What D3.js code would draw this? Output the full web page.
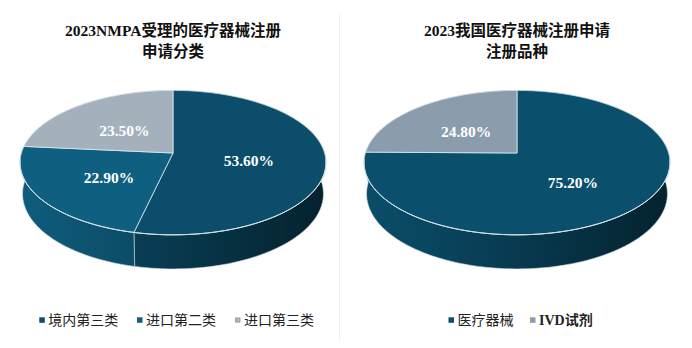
<!DOCTYPE html>
<html>
<head>
<meta charset="utf-8">
<script src="https://cdn.jsdelivr.net/npm/d3@7/dist/d3.min.js"></script>
<style>
  html, body { margin: 0; padding: 0; background: #fff; }
  svg { display: block; }
</style>
</head>
<body>
<svg id="chart" width="692" height="348"></svg>
<script>
// ---- data ----
const leftTitle = ["2023NMPA受理的医疗器械注册", "申请分类"];
const leftCategories = ["境内第三类", "进口第二类", "进口第三类"];
const leftValues = [53.6, 22.9, 23.5];
const leftColors = ["#0b4d6a", "#0f5f80", "#a4b1bc"];

const rightTitle = ["2023我国医疗器械注册申请", "注册品种"];
const rightCategories = ["医疗器械", "IVD试剂"];
const rightValues = [75.2, 24.8];
const rightColors = ["#0a4f6c", "#8b9cac"];

// ---- 3D projection of a tilted disc (camera above, with perspective) ----
const alpha = 27.9 * Math.PI / 180;
const sa = Math.sin(alpha), ca = Math.cos(alpha);
const D = 6.65;          // camera distance in radius units
const F = 151.6 * D;     // focal scale -> 151.6 px radius at the centre plane
const H = 0.235;         // thickness of the pie in radius units

function project(cx, cy, theta, r, h) {
  const x = r * Math.sin(theta), v = r * Math.cos(theta);
  const depth = D + v * ca - h * sa;
  const Y = v * sa + h * ca;
  return [cx + F * x / depth, cy - F * Y / depth];
}

function arcPoints(cx, cy, a0, a1, r, h) {
  const n = Math.max(2, Math.ceil(Math.abs(a1 - a0) / 0.02));
  return d3.range(n + 1).map(i => project(cx, cy, a0 + (a1 - a0) * i / n, r, h));
}

const svg = d3.select("#chart");
const defs = svg.append("defs");
const line = d3.line();

// faint divider between the two panels
svg.append("line")
  .attr("x1", 339.5).attr("x2", 339.5).attr("y1", 13).attr("y2", 340)
  .attr("stroke", "#efefef").attr("stroke-width", 1);

function drawPie(opts) {
  const { id, cx, cy, values, colors, title, categories, legendX, labelColors } = opts;
  const g = svg.append("g");

  const pie = d3.pie().sort(null).startAngle(0).endAngle(2 * Math.PI);
  const arcs = pie(values);
  const total = d3.sum(values);

  // side-wall gradients, one per slice colour, spanning the pie width
  arcs.forEach((a, i) => {
    const c = d3.color(colors[i]);
    const grad = defs.append("linearGradient")
      .attr("id", `${id}-wall-${i}`)
      .attr("gradientUnits", "userSpaceOnUse")
      .attr("x1", cx - 155).attr("x2", cx + 155)
      .attr("y1", 0).attr("y2", 0);
    grad.append("stop").attr("offset", 0).attr("stop-color", c.darker(0.05));
    grad.append("stop").attr("offset", 0.45).attr("stop-color", c.darker(0.75));
    grad.append("stop").attr("offset", 1).attr("stop-color", c.darker(2.4));
  });

  // outer walls, far ones first
  const walls = arcs.map((a, i) => ({ a, i, mid: (a.startAngle + a.endAngle) / 2 }))
    .sort((p, q) => Math.cos(q.mid) - Math.cos(p.mid));
  walls.forEach(({ a, i }) => {
    const top = arcPoints(cx, cy, a.startAngle, a.endAngle, 1, 0);
    const bottom = arcPoints(cx, cy, a.endAngle, a.startAngle, 1, -H);
    g.append("path")
      .attr("d", line(top.concat(bottom)) + "Z")
      .attr("fill", `url(#${id}-wall-${i})`)
      .attr("stroke", "#c9d6de")
      .attr("stroke-width", 0.6)
      .attr("stroke-linejoin", "round");
  });

  // top faces
  arcs.forEach((a, i) => {
    const pts = [project(cx, cy, 0, 0, 0)]
      .concat(arcPoints(cx, cy, a.startAngle, a.endAngle, 1, 0));
    g.append("path")
      .attr("d", line(pts) + "Z")
      .attr("fill", colors[i])
      .attr("stroke", "#dde7ed")
      .attr("stroke-width", 0.8)
      .attr("stroke-linejoin", "round");
  });

  // light highlight on the front rim
  g.append("path")
    .attr("d", line(arcPoints(cx, cy, Math.PI * 0.53, Math.PI * 1.47, 1, 0)))
    .attr("fill", "none")
    .attr("stroke", "#d3e0e8")
    .attr("stroke-width", 1);

  // value labels
  arcs.forEach((a, i) => {
    const mid = (a.startAngle + a.endAngle) / 2;
    const p = project(cx, cy, mid, 0.5, 0);
    g.append("text")
      .attr("x", p[0]).attr("y", p[1] + 3)
      .attr("text-anchor", "middle")
      .attr("dominant-baseline", "central")
      .attr("fill", "#ffffff")
      .attr("font-family", "'Liberation Serif', 'Times New Roman', serif")
      .attr("font-weight", "bold")
      .attr("font-size", 15.5)
      .text((a.value / total * 100).toFixed(2) + "%");
  });

  // title
  title.forEach((t, k) => {
    g.append("text")
      .attr("x", cx).attr("y", 36 + k * 21)
      .attr("text-anchor", "middle")
      .attr("fill", "#111")
      .attr("font-family", "'Liberation Serif', 'Noto Sans CJK SC', serif")
      .attr("font-weight", "bold")
      .attr("font-size", 15.5)
      .text(t);
  });

  // legend
  const lg = g.append("g");
  legendX.forEach((x, i) => {
    lg.append("rect")
      .attr("x", x).attr("y", 317.3)
      .attr("width", 5.5).attr("height", 5.5)
      .attr("fill", colors[i]);
    lg.append("text")
      .attr("x", x + 9).attr("y", 320)
      .attr("dominant-baseline", "central")
      .attr("fill", "#222")
      .attr("font-family", "'Liberation Serif', 'Noto Sans CJK SC', serif")
      .attr("font-weight", /^[A-Za-z]/.test(categories[i]) ? "bold" : "normal")
      .attr("font-size", 14)
      .text(categories[i]);
  });
}

drawPie({
  id: "left", cx: 173, cy: 153,
  values: leftValues, colors: leftColors,
  title: leftTitle, categories: leftCategories,
  legendX: [39.3, 137, 235]
});

drawPie({
  id: "right", cx: 517, cy: 153,
  values: rightValues, colors: rightColors,
  title: rightTitle, categories: rightCategories,
  legendX: [448.5, 530]
});
</script>
</body>
</html>
